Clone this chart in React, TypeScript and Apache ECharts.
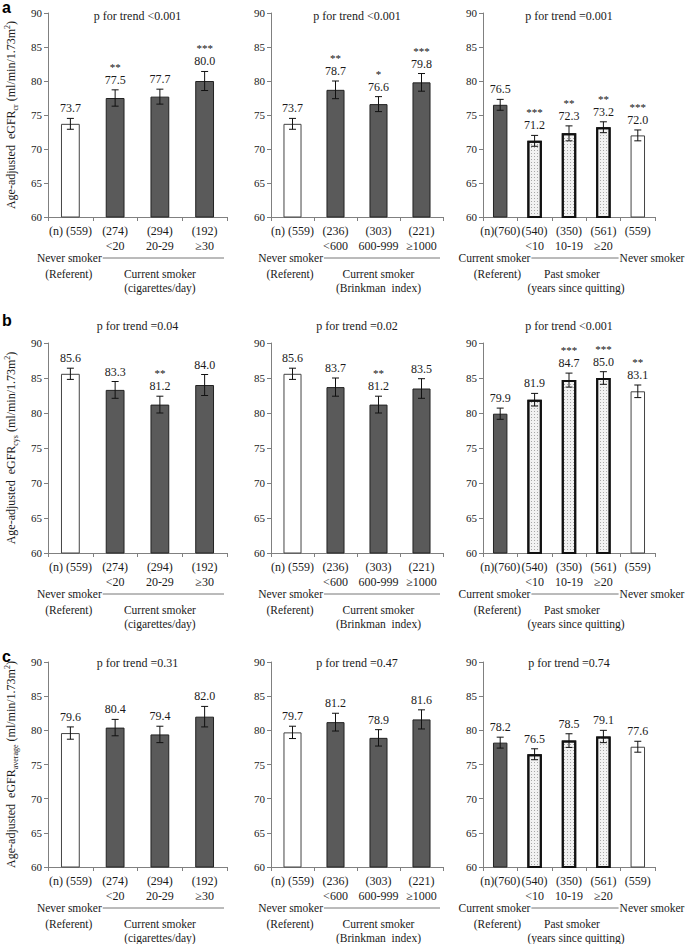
import React, { useEffect, useRef } from "react";
import * as echarts from "echarts";

const FONT = "'Liberation Serif', 'Times New Roman', serif";
const TXT = "#1a1a1a";

// ---- category labels ----
const nCig = ["(n) (559)", "(274)", "(294)", "(192)"];
const subCig = ["", "<20", "20-29", "≥30"];
const nBi = ["(n) (559)", "(236)", "(303)", "(221)"];
const subBi = ["", "<600", "600-999", "≥1000"];
const nPast = ["(n)(760)", "(540)", "(350)", "(561)", "(559)"];
const subPast = ["", "<10", "10-19", "≥20", ""];

const kindsSmoke = ["white", "dark", "dark", "dark"];
const kindsPast = ["dark", "dot", "dot", "dot", "white"];

// ---- row a : eGFRcr ----
const crCig = [73.7, 77.5, 77.7, 80.0];
const crCigErr = [0.8, 1.2, 1.1, 1.4];
const crCigSig = ["", "**", "", "***"];
const crBi = [73.7, 78.7, 76.6, 79.8];
const crBiErr = [0.8, 1.3, 1.1, 1.3];
const crBiSig = ["", "**", "*", "***"];
const crPast = [76.5, 71.2, 72.3, 73.2, 72.0];
const crPastErr = [0.8, 0.8, 1.1, 0.8, 0.8];
const crPastSig = ["", "***", "**", "**", "***"];

// ---- row b : eGFRcys ----
const cysCig = [85.6, 83.3, 81.2, 84.0];
const cysCigErr = [0.8, 1.2, 1.2, 1.5];
const cysCigSig = ["", "", "**", ""];
const cysBi = [85.6, 83.7, 81.2, 83.5];
const cysBiErr = [0.8, 1.3, 1.2, 1.4];
const cysBiSig = ["", "", "**", ""];
const cysPast = [79.9, 81.9, 84.7, 85.0, 83.1];
const cysPastErr = [0.8, 0.9, 1.0, 0.9, 0.9];
const cysPastSig = ["", "", "***", "***", "**"];

// ---- row c : eGFRaverage ----
const avgCig = [79.6, 80.4, 79.4, 82.0];
const avgCigErr = [0.9, 1.2, 1.2, 1.5];
const avgBi = [79.7, 81.2, 78.9, 81.6];
const avgBiErr = [0.9, 1.3, 1.2, 1.4];
const avgPast = [78.2, 76.5, 78.5, 79.1, 77.6];
const avgPastErr = [0.8, 0.8, 1.0, 0.9, 0.8];
const noSig4 = ["", "", "", ""];
const noSig5 = ["", "", "", "", ""];

const trendTitles = [
  "p for trend <0.001", "p for trend <0.001", "p for trend =0.001",
  "p for trend =0.04", "p for trend =0.02", "p for trend <0.001",
  "p for trend =0.31", "p for trend =0.47", "p for trend =0.74",
];
const rowLetters = ["a", "b", "c"];
const ySubs = ["cr", "cys", "average"];

// layout (pixels)
const rowTop = [13, 343, 662];
const rowH = [204, 210, 205];
const rowTitleY = [17, 327, 664];
const letterY = [7, 320, 656];
const colLeft = [48, 271, 483];
const colW = [179, 172, 172];

type Panel = {
  n: string[]; sub: string[]; values: number[]; errs: number[]; sig: string[]; kinds: string[];
  left: string; leftSub: string; mid: string; midSub: string; right: string | null;
};

const smokeCig = (values: number[], errs: number[], sig: string[]): Panel => ({
  n: nCig, sub: subCig, values, errs, sig, kinds: kindsSmoke,
  left: "Never smoker", leftSub: "(Referent)", mid: "Current smoker", midSub: "(cigarettes/day)", right: null,
});
const smokeBi = (values: number[], errs: number[], sig: string[]): Panel => ({
  n: nBi, sub: subBi, values, errs, sig, kinds: kindsSmoke,
  left: "Never smoker", leftSub: "(Referent)", mid: "Current smoker", midSub: "(Brinkman  index)", right: null,
});
const past = (values: number[], errs: number[], sig: string[]): Panel => ({
  n: nPast, sub: subPast, values, errs, sig, kinds: kindsPast,
  left: "Current smoker", leftSub: "(Referent)", mid: "Past smoker", midSub: "(years since quitting)", right: "Never smoker",
});

const panels: Panel[] = [
  smokeCig(crCig, crCigErr, crCigSig), smokeBi(crBi, crBiErr, crBiSig), past(crPast, crPastErr, crPastSig),
  smokeCig(cysCig, cysCigErr, cysCigSig), smokeBi(cysBi, cysBiErr, cysBiSig), past(cysPast, cysPastErr, cysPastSig),
  smokeCig(avgCig, avgCigErr, noSig4), smokeBi(avgBi, avgBiErr, noSig4), past(avgPast, avgPastErr, noSig5),
];

const barStyle = (kind: string) => {
  if (kind === "dark") return { color: "#5a5a5a", borderColor: "#222", borderWidth: 1 };
  if (kind === "white") return { color: "#ffffff", borderColor: "#444", borderWidth: 1 };
  return {
    color: "#f2f2f2",
    borderColor: "#111",
    borderWidth: 2,
    decal: { symbol: "rect", symbolSize: 1, dashArrayX: [1, 2], dashArrayY: [1, 2], color: "#a8a8a8", backgroundColor: "#f2f2f2", rotation: 0 },
  };
};

export default function App() {
  const ref = useRef<HTMLDivElement>(null);
  useEffect(() => {
    if (!ref.current) return;
    const chart = echarts.init(ref.current, null, { renderer: "svg" });
    const grid: any[] = [];
    const xAxis: any[] = [];
    const yAxis: any[] = [];
    const series: any[] = [];
    const title: any[] = [];
    panels.forEach((p, i) => {
      const r = Math.floor(i / 3);
      const c = i % 3;
      grid.push({ left: colLeft[c], top: rowTop[r], width: colW[c], height: rowH[r] });
      title.push({
        text: trendTitles[i], left: colLeft[c] + colW[c] / 2, top: rowTitleY[r] - 7, textAlign: "center", padding: 0,
        textStyle: { fontFamily: FONT, fontSize: 12, fontWeight: "normal", color: TXT },
      });
      xAxis.push({
        type: "category", gridIndex: i, data: p.n,
        axisLine: { lineStyle: { color: "#808080", width: 1 } },
        axisTick: { show: true, alignWithLabel: false, length: 4, lineStyle: { color: "#808080" } },
        axisLabel: {
          interval: 0, margin: 6, fontFamily: FONT, fontSize: 12, color: TXT, lineHeight: 15,
          formatter: (v: string, idx: number) => (p.sub[idx] ? v + "\n" + p.sub[idx] : v + "\n "),
        },
        splitLine: { show: false },
      });
      yAxis.push({
        type: "value", gridIndex: i, min: 60, max: 90, interval: 5,
        axisLine: { show: true, lineStyle: { color: "#808080", width: 1 } },
        axisTick: { show: true, length: 4, lineStyle: { color: "#808080" } },
        axisLabel: { fontFamily: FONT, fontSize: 11, color: TXT, margin: 6 },
        splitLine: { show: false },
        name: c === 0 ? "Age-adjusted  eGFR{s|" + ySubs[r] + "} (ml/min/1.73m{p|2})" : "",
        nameLocation: "middle",
        nameGap: 29,
        nameRotate: 90,
        nameTextStyle: {
          fontFamily: FONT, fontSize: 12, color: TXT, lineHeight: 16,
          rich: {
            s: { fontFamily: FONT, fontSize: 8, color: TXT, lineHeight: 16, verticalAlign: "bottom", padding: [6, 0, 0, 0] },
            p: { fontFamily: FONT, fontSize: 8, color: TXT, lineHeight: 16, verticalAlign: "top", padding: [0, 0, 6, 0] },
          },
        },
      });
      series.push({
        type: "bar", xAxisIndex: i, yAxisIndex: i, barWidth: "42%",
        data: p.values.map((v, k) => ({ value: v, itemStyle: barStyle(p.kinds[k]) })),
      });
      series.push({
        type: "custom", xAxisIndex: i, yAxisIndex: i, z: 10,
        data: p.values.map((v, k) => [k, v, p.errs[k]]),
        renderItem: (params: any, api: any) => {
          const k = api.value(0);
          const v = api.value(1);
          const e = api.value(2);
          const top = api.coord([k, v + e]);
          const bot = api.coord([k, v - e]);
          const cap = 3.5;
          const ls = { stroke: "#111", lineWidth: 1 };
          const children: any[] = [
            { type: "line", shape: { x1: top[0], y1: top[1], x2: bot[0], y2: bot[1] }, style: ls },
            { type: "line", shape: { x1: top[0] - cap, y1: top[1], x2: top[0] + cap, y2: top[1] }, style: ls },
            { type: "line", shape: { x1: bot[0] - cap, y1: bot[1], x2: bot[0] + cap, y2: bot[1] }, style: ls },
            {
              type: "text", x: top[0], y: top[1] - 10,
              style: { text: v.toFixed(1), align: "center", verticalAlign: "middle", fontFamily: FONT, fontSize: 12, fill: TXT },
            },
          ];
          const s = p.sig[params.dataIndex];
          if (s) {
            children.push({
              type: "text", x: top[0], y: top[1] - 23,
              style: { text: s, align: "center", verticalAlign: "middle", fontFamily: FONT, fontSize: 11, fill: "#111111" },
            });
          }
          return { type: "group", children };
        },
      });
    });

    chart.setOption({
      animation: false,
      backgroundColor: "#ffffff",
      title, grid, xAxis, yAxis, series,
    });

    // group labels beneath each panel, positioned from the axes
    const graphic: any[] = [];
    rowLetters.forEach((l, r) => {
      graphic.push({
        type: "text", left: 2, top: letterY[r] - 8,
        style: { text: l, font: "bold 16px 'Liberation Sans', Arial, sans-serif", fill: "#000" },
      });
    });
    panels.forEach((p, i) => {
      const c0 = chart.convertToPixel({ xAxisIndex: i } as any, 0) as number;
      const c1 = chart.convertToPixel({ xAxisIndex: i } as any, 1) as number;
      const bw = c1 - c0;
      const base = chart.convertToPixel({ yAxisIndex: i } as any, 60) as number;
      const right = c0 - bw / 2 + bw * p.n.length;
      const b1 = c0 + bw / 2;
      const isPast = p.right !== null;
      const lineStart = b1 + (isPast ? 14 : 10);
      const lineEnd = isPast ? b1 + bw * 3 - 2 : right - 3;
      const ly = base + 41;
      const ts = (text: string, x: number, y: number, align: string) => ({
        type: "text", x, y,
        style: { text, align, verticalAlign: "middle", fontFamily: FONT, fontSize: 11.5, fill: TXT },
      });
      graphic.push({
        type: "line", shape: { x1: lineStart, y1: ly, x2: lineEnd, y2: ly },
        style: { stroke: "#777", lineWidth: 1 },
      });
      graphic.push(ts(p.left, lineStart - 1, ly, "right"));
      graphic.push(ts(p.leftSub, lineStart - 34, base + 57, "center"));
      const midX = (b1 + b1 + bw * 3) / 2 + (isPast ? 3 : 0);
      graphic.push(ts(p.mid, midX, base + 57, "center"));
      graphic.push(ts(p.midSub, midX + (isPast ? 4 : 0), base + 71, "center"));
      if (p.right) graphic.push(ts(p.right, lineEnd + 1, ly, "left"));
    });
    chart.setOption({ graphic });

    return () => chart.dispose();
  }, []);
  return <div ref={ref} style={{ position: "fixed", left: 0, top: 0, width: 685, height: 944, background: "#fff" }} />;
}
